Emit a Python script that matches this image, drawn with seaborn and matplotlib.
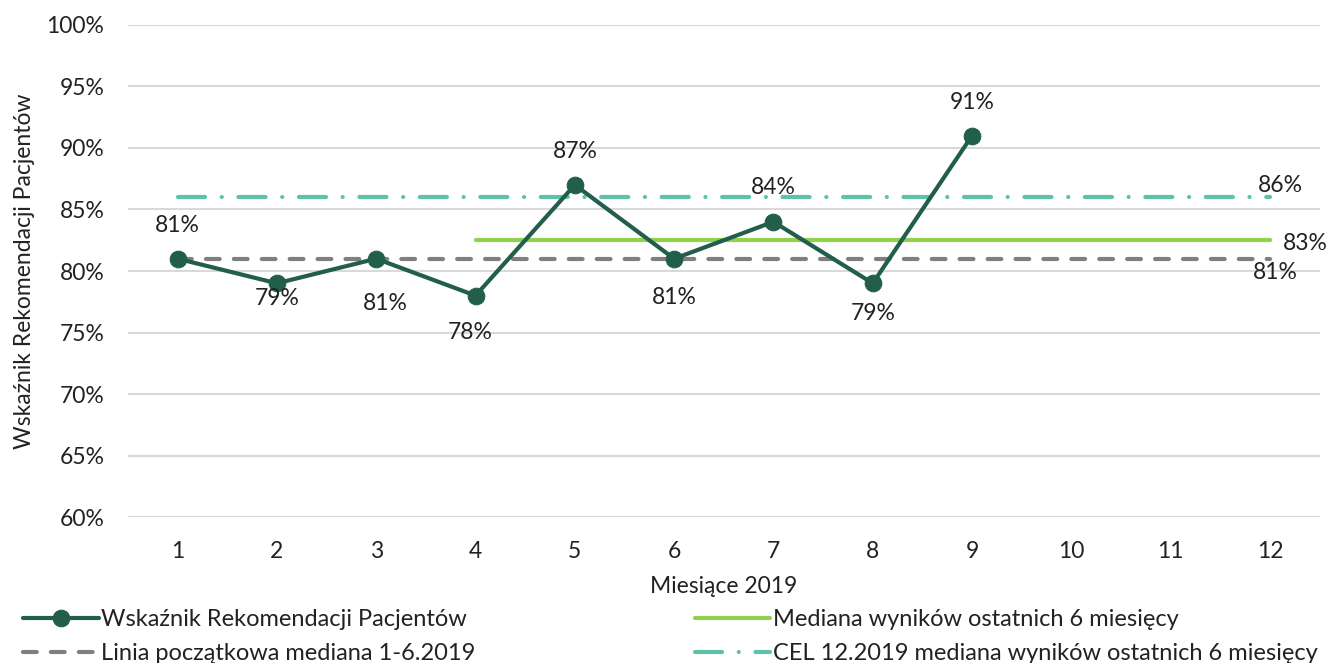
import numpy as np
import pandas as pd
import matplotlib
matplotlib.use('Agg')
import matplotlib.pyplot as plt
import seaborn as sns

# data
months = [1, 2, 3, 4, 5, 6, 7, 8, 9]
score = [81, 79, 81, 78, 87, 81, 84, 79, 91]
all_months = list(range(1, 13))
baseline = 81
median_last6 = 82.5
median_label = '83%'
median_start = 4
target = 86
yticks = [60, 65, 70, 75, 80, 85, 90, 95, 100]

# label offsets (pixels, up is positive)
label_dy = [33, -15, -45, -37, 33, -39, 34, -30, 33]
label_dx = [0, 0, 9, -5, 0, 0, 0, 0, 0]

c_main = '#215E4C'
c_median = '#92D050'
c_target = '#5CC2AA'
c_base = '#7F7F7F'
c_text = '#222222'
fs = 16.5

sns.set_theme(style='white')
plt.rcParams['font.family'] = ['Lato', 'DejaVu Sans']

fig = plt.figure(figsize=(13.37, 6.63), dpi=100)
ax = fig.add_axes([0.0957, 0.2202, 0.8913, 0.7421])

df = pd.DataFrame({'month': months, 'score': score})

ax.plot(all_months, [baseline] * 12, color=c_base, lw=3, dashes=(3.3, 3.4), dash_capstyle='round',
        label='Linia początkowa mediana 1-6.2019', zorder=2)
ax.plot(all_months, [target] * 12, color=c_target, lw=3, dashes=(6.5, 4, 0.01, 4), dash_capstyle='round',
        label='CEL 12.2019 mediana wyników ostatnich 6 miesięcy', zorder=2)
ax.plot(list(range(median_start, 13)), [median_last6] * (13 - median_start), color=c_median, lw=3,
        label='Mediana wyników ostatnich 6 miesięcy', zorder=2)
sns.lineplot(data=df, x='month', y='score', ax=ax, color=c_main, lw=3, marker='o',
             markersize=12, markeredgecolor=c_main, label='Wskaźnik Rekomendacji Pacjentów', zorder=3)

px = 0.72  # pixels -> points at 100 dpi
for m, v, dx, dy in zip(months, score, label_dx, label_dy):
    ax.annotate(f'{v}%', (m, v), xytext=(dx * px, dy * px), textcoords='offset points',
                ha='center', va='center', fontsize=fs, color=c_text)

ax.annotate(f'{baseline}%', (12, baseline), xytext=(5 * px, -14 * px), textcoords='offset points',
            ha='center', va='center', fontsize=fs, color=c_text)
ax.annotate(median_label, (12, median_last6), xytext=(35 * px, -3 * px), textcoords='offset points',
            ha='center', va='center', fontsize=fs, color=c_text)
ax.annotate(f'{target}%', (12, target), xytext=(10 * px, 12 * px), textcoords='offset points',
            ha='center', va='center', fontsize=fs, color=c_text)

ax.set_xlim(0.5, 12.5)
ax.set_ylim(60, 100)
ax.set_xticks(all_months)
ax.set_yticks(yticks)
ax.set_yticklabels([f'{t}%' for t in yticks])
ax.tick_params(axis='both', labelsize=fs, length=0, colors=c_text)
ax.tick_params(axis='x', pad=17.5)
ax.tick_params(axis='y', pad=17)
ax.grid(axis='y', color='#D9D9D9', lw=1.5)
for s in ax.spines.values():
    s.set_visible(False)
ax.set_xlabel('Miesiące 2019', fontsize=fs, color=c_text, labelpad=10)
ax.set_ylabel('Wskaźnik Rekomendacji Pacjentów', fontsize=fs, color=c_text, labelpad=8)

h, l = ax.get_legend_handles_labels()
order = [3, 0, 2, 1]
ax.legend([h[i] for i in order], [l[i] for i in order], ncol=2, loc='upper left',
          bbox_to_anchor=(-0.096, -0.168), frameon=False, fontsize=17, handlelength=3.2,
          handletextpad=0.1, columnspacing=9.3, labelspacing=0.55, borderaxespad=0,
          labelcolor=c_text)

fig.savefig('out.png', dpi=100)
